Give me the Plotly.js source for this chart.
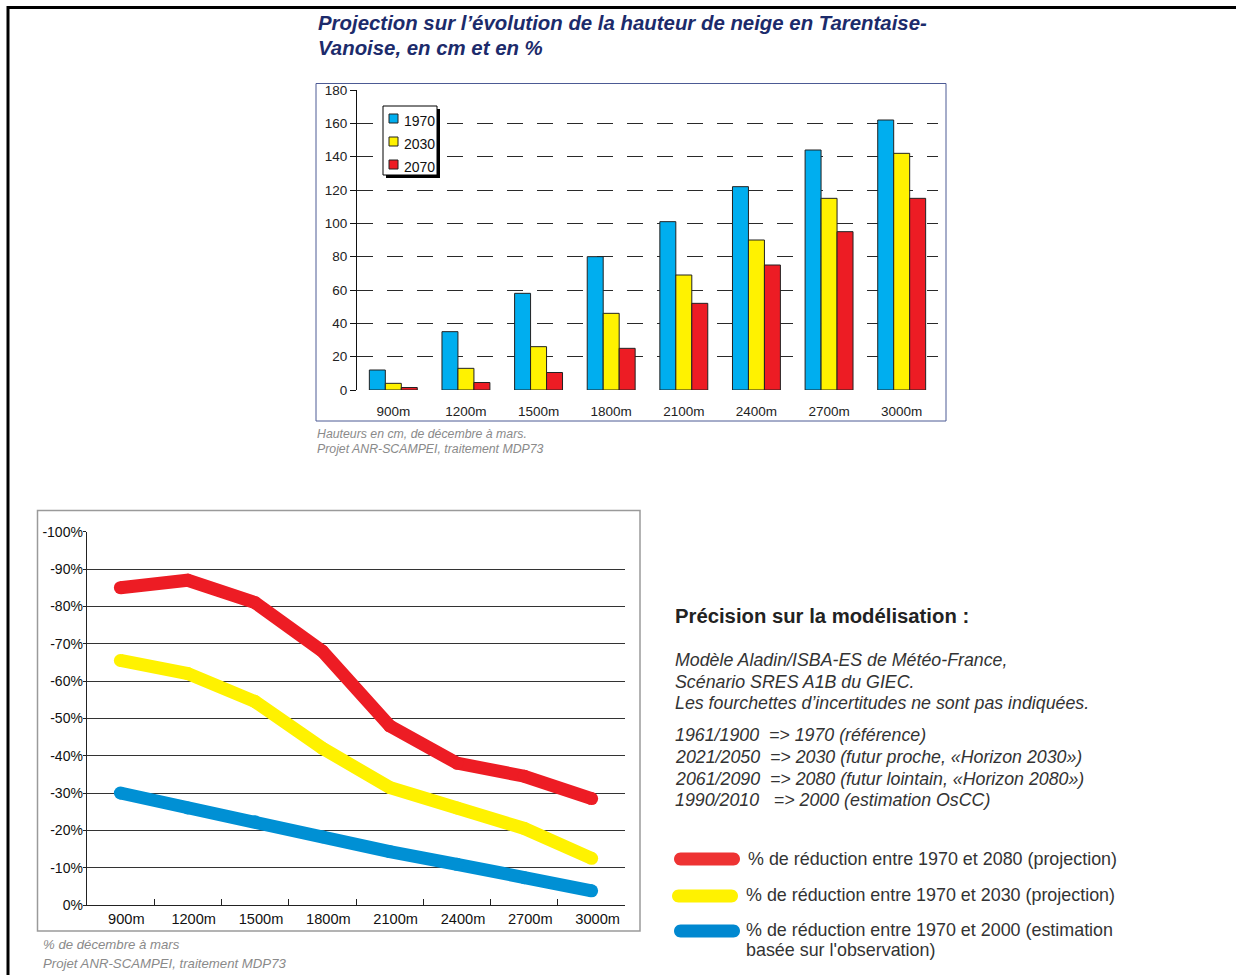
<!DOCTYPE html>
<html><head><meta charset="utf-8">
<script src="https://cdn.plot.ly/plotly-3.0.1.min.js"></script>
<style>html,body{margin:0;padding:0;background:#fff}</style>
</head><body><div id="chart" style="width:1236px;height:975px"></div>
<script>
// ---------- data ----------
const altitudes = ['900m','1200m','1500m','1800m','2100m','2400m','2700m','3000m'];
const snow1970 = [12, 35, 58, 80, 101, 122, 144, 162];
const snow2030 = [4, 13, 26, 46, 69, 90, 115, 142];
const snow2070 = [1.5, 4.5, 10.5, 25, 52, 75, 95, 115];
const barYears = ['1970', '2030', '2070'];
const barTickVals = [0, 20, 40, 60, 80, 100, 120, 140, 160, 180];

const reduc2080 = [-85, -87, -81, -68, -48, -38, -34.5, -28.5];
const reduc2030 = [-65.5, -62, -54.5, -42, -31.5, -26, -20.5, -12.5];
const reduc2000 = [-30, -26, -22.3, -18.3, -14.3, -10.9, -7.3, -3.8];
const pctTickVals = [0, -10, -20, -30, -40, -50, -60, -70, -80, -90, -100];
const pctTickText = ['0%', '-10%', '-20%', '-30%', '-40%', '-50%', '-60%', '-70%', '-80%', '-90%', '-100%'];
const lineLegend = [
  '% de réduction entre 1970 et 2080 (projection)',
  '% de réduction entre 1970 et 2030 (projection)',
  '% de réduction entre 1970 et 2000 (estimation',
  'basée sur l\'observation)'
];
const titleLines = ['Projection sur l’évolution de la hauteur de neige en Tarentaise-', 'Vanoise, en cm et en %'];
const noteHeading = 'Précision sur la modélisation :';
const noteLines = [
  'Modèle Aladin/ISBA-ES de Météo-France,',
  'Scénario SRES A1B du GIEC.',
  'Les fourchettes d’incertitudes ne sont pas indiquées.',
  '1961/1900  => 1970 (référence)',
  '2021/2050  => 2030 (futur proche, «Horizon 2030»)',
  '2061/2090  => 2080 (futur lointain, «Horizon 2080»)',
  '1990/2010   => 2000 (estimation OsCC)'
];
const barCaption = ['Hauteurs en cm, de décembre à mars.', 'Projet ANR-SCAMPEI, traitement MDP73'];
const lineCaption = ['% de décembre à mars', 'Projet ANR-SCAMPEI, traitement MDP73'];

// ---------- styles ----------
const W = 1236, H = 975;
const X = px => px / W;
const Y = py => 1 - py / H;
const FONT = 'Liberation Sans, Arial, sans-serif';
const barColors = ['#00aeef', '#fff200', '#ed1c24'];
const lineColors = ['#ed1c24', '#fff200', '#0090d4'];
const pillColors = ['#ee3333', '#fff200', '#0088d0'];

const barSeries = [snow1970, snow2030, snow2070];
const traces = barSeries.map((vals, i) => ({
  type: 'bar', x: altitudes, y: vals, name: barYears[i],
  marker: {color: barColors[i], line: {color: '#222', width: 1}},
  xaxis: 'x', yaxis: 'y', showlegend: false
}));

const lineSeries = [reduc2080, reduc2030, reduc2000];
lineSeries.forEach((vals, i) => {
  traces.push({
    type: 'scatter', mode: 'lines+markers', x: altitudes, y: vals,
    name: lineLegend[i],
    line: {color: lineColors[i], width: 13},
    marker: {color: lineColors[i], size: 13, line: {width: 0}},
    xaxis: 'x2', yaxis: 'y2', showlegend: false
  });
});

const shapes = [];
const annotations = [];
function txt(x, y, text, size, color, extra) {
  annotations.push(Object.assign({xref: 'paper', yref: 'paper', x: X(x), y: Y(y), xanchor: 'left', yanchor: 'middle',
    showarrow: false, align: 'left', text: text, font: {family: FONT, size: size, color: color}}, extra || {}));
}

// page border
shapes.push({type: 'line', xref: 'paper', yref: 'paper', x0: X(7), x1: X(1236), y0: Y(7.5), y1: Y(7.5), line: {color: '#000', width: 3}});
shapes.push({type: 'line', xref: 'paper', yref: 'paper', x0: X(8), x1: X(8), y0: Y(6), y1: Y(975), line: {color: '#000', width: 3}});

// frames
shapes.push({type: 'rect', xref: 'paper', yref: 'paper', x0: X(316), x1: X(946), y0: Y(83.5), y1: Y(421), line: {color: '#4c5a94', width: 1}, layer: 'below'});
shapes.push({type: 'rect', xref: 'paper', yref: 'paper', x0: X(37.5), x1: X(640), y0: Y(510.5), y1: Y(931), line: {color: '#9a9a9a', width: 1.5}, layer: 'below'});

// bar legend (shadow + box)
shapes.push({type: 'rect', xref: 'paper', yref: 'paper', x0: X(386), x1: X(440), y0: Y(109), y1: Y(178), fillcolor: '#000', line: {width: 0}});
shapes.push({type: 'rect', xref: 'paper', yref: 'paper', x0: X(383), x1: X(437), y0: Y(106), y1: Y(175), fillcolor: '#fff', line: {color: '#000', width: 1}});
barYears.forEach((yr, i) => {
  const cy = 118.5 + i * 23;
  shapes.push({type: 'rect', xref: 'paper', yref: 'paper', x0: X(389), x1: X(398), y0: Y(cy - 4.5), y1: Y(cy + 4.5), fillcolor: barColors[i], line: {color: '#222', width: 1}});
  txt(402, cy + 2.5, yr, 14, '#111');
});

// line legend pills
function pill(x0, x1, cy, h, color) {
  const r = h / 2, k = 0.55 * r;
  const pts = (a, b) => X(a).toFixed(5) + ',' + Y(b).toFixed(5);
  const path = 'M ' + pts(x0 + r, cy - r) + ' L ' + pts(x1 - r, cy - r) +
    ' C ' + pts(x1 - r + k, cy - r) + ' ' + pts(x1, cy - k) + ' ' + pts(x1, cy) +
    ' C ' + pts(x1, cy + k) + ' ' + pts(x1 - r + k, cy + r) + ' ' + pts(x1 - r, cy + r) +
    ' L ' + pts(x0 + r, cy + r) +
    ' C ' + pts(x0 + r - k, cy + r) + ' ' + pts(x0, cy + k) + ' ' + pts(x0, cy) +
    ' C ' + pts(x0, cy - k) + ' ' + pts(x0 + r - k, cy - r) + ' ' + pts(x0 + r, cy - r) + ' Z';
  return {type: 'path', xref: 'paper', yref: 'paper', path: path, fillcolor: color, line: {width: 0}};
}
shapes.push(pill(674, 740, 859, 13, pillColors[0]));
shapes.push(pill(672, 738, 896, 13, pillColors[1]));
shapes.push(pill(674, 740, 931, 13, pillColors[2]));
txt(745.5, 858.5, lineLegend[0], 17.9, '#333');
txt(743.5, 894.5, lineLegend[1], 17.9, '#333');
txt(743.5, 929.5, lineLegend[2], 17.9, '#333');
txt(743.5, 950, lineLegend[3], 17.9, '#333');

// title
txt(316, 23, '<b><i>' + titleLines[0] + '</i></b>', 20.4, '#1c2b6b');
txt(316, 48, '<b><i>' + titleLines[1] + '</i></b>', 20.4, '#1c2b6b');

// captions
txt(315, 434, '<i>' + barCaption[0] + '</i>', 12.3, '#8a8a8a');
txt(315, 449, '<i>' + barCaption[1] + '</i>', 12.3, '#8a8a8a');
txt(41, 944, '<i>' + lineCaption[0] + '</i>', 13.2, '#8a8a8a');
txt(41, 963, '<i>' + lineCaption[1] + '</i>', 13.2, '#8a8a8a');

// right text block
txt(673, 616, '<b>' + noteHeading + '</b>', 20.3, '#222');
const noteY = [660, 681.5, 703, 735, 757, 779, 800];
noteLines.forEach((l, i) => txt(673, noteY[i], '<i>' + l + '</i>', 17.8, '#333'));

const layout = {
  width: W, height: H,
  margin: {l: 0, r: 0, t: 0, b: 0},
  paper_bgcolor: '#fff', plot_bgcolor: 'rgba(0,0,0,0)',
  showlegend: false,
  barmode: 'group', bargap: 0.34, bargroupgap: 0,
  font: {family: FONT, color: '#222'},
  xaxis: {
    domain: [X(357), X(938)], anchor: 'y',
    type: 'category', range: [-0.5, 7.5],
    showline: true, linecolor: '#fff', linewidth: 2,
    showgrid: false, zeroline: false,
    ticks: 'outside', ticklen: 8, tickcolor: 'rgba(0,0,0,0)',
    tickfont: {family: FONT, size: 13.5, color: '#222'}
  },
  yaxis: {
    domain: [Y(390), Y(90)], anchor: 'x',
    range: [0, 180], tickvals: barTickVals,
    showline: true, linecolor: '#111', linewidth: 1,
    ticks: 'outside', ticklen: 6, tickcolor: '#111',
    showgrid: true, gridcolor: '#2a2a2a', gridwidth: 1, griddash: '16px,14px',
    zeroline: false,
    tickfont: {family: FONT, size: 13.5, color: '#222'}
  },
  xaxis2: {
    domain: [X(86.7), X(625.3)], anchor: 'y2',
    type: 'category', range: [-0.5, 7.5],
    showline: true, linecolor: '#222', linewidth: 1,
    ticks: 'inside', tickson: 'boundaries', ticklen: 6, tickcolor: '#222',
    showgrid: false, zeroline: false, ticklabelshift: 6,
    tickfont: {family: FONT, size: 14.6, color: '#111'}
  },
  yaxis2: {
    domain: [Y(905), Y(531.7)], anchor: 'x2',
    range: [0, -100], tickvals: pctTickVals, ticktext: pctTickText,
    showline: true, linecolor: '#222', linewidth: 1,
    ticks: 'outside', ticklen: 3, tickcolor: '#222', ticklabelstandoff: -3,
    showgrid: true, gridcolor: '#333', gridwidth: 1, zeroline: false,
    tickfont: {family: FONT, size: 14, color: '#111'}
  },
  shapes: shapes,
  annotations: annotations
};

Plotly.newPlot('chart', traces, layout, {displayModeBar: false, staticPlot: true});
</script>
</body></html>
